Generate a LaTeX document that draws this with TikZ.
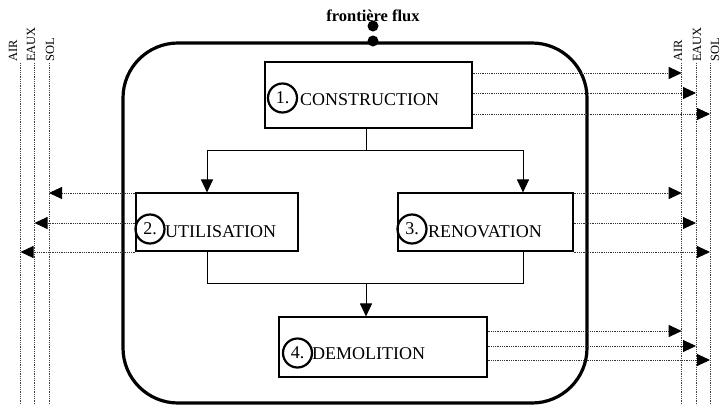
\documentclass[tikz,border=0pt]{standalone}
\usepackage{fontspec}
\setmainfont{Liberation Serif}
\usetikzlibrary{arrows.meta,calc}
\begin{document}
\begin{tikzpicture}[x=1pt,y=-1pt,
  frame/.style={draw,line width=3.2pt,rounded corners=55pt,rectangle,inner sep=0pt},
  stagebox/.style={draw,line width=1.1pt,rectangle,inner sep=0pt},
  numc/.style={circle,draw,line width=2.2pt,minimum size=29pt,inner sep=0pt,font=\fontsize{18}{20}\selectfont},
  lbl/.style={anchor=base west,inner sep=0pt,font=\fontsize{18}{20}\selectfont},
  medlbl/.style={rotate=90,anchor=base west,inner sep=0pt,font=\fontsize{12.5}{14}\selectfont},
  dotnode/.style={circle,fill=black,inner sep=0pt,minimum size=11pt},
  flow/.style={line width=1pt,-{Triangle[length=13pt,width=12pt]}},
  link/.style={line width=1pt},
  emit/.style={line width=0.9pt,black!80,dash pattern=on 1pt off 0.8pt,-{Triangle[length=13pt,width=12pt,color=black,fill=black]}},
  medline/.style={line width=0.9pt,black!75,dash pattern=on 1pt off 0.8pt}
]
\useasboundingbox (0,0) rectangle (721,405);

% outer boundary
\node[frame,minimum width=464pt,minimum height=360pt] (frame) at (355,223) {};
\node[font=\bfseries\fontsize{16.5}{18}\selectfont,anchor=base,inner sep=0pt] (title) at (373,21) {frontière flux};
\node[dotnode] (d1) at (373,26) {};
\node[dotnode] (d2) at (373,41) {};

% media lines
\coordinate (airLt) at (20.5,63);  \coordinate (airLb) at (20.5,405);
\coordinate (eauLt) at (34.5,63);  \coordinate (eauLb) at (34.5,405);
\coordinate (solLt) at (49,63);    \coordinate (solLb) at (49,405);
\coordinate (airRt) at (681.7,63); \coordinate (airRb) at (681.7,405);
\coordinate (eauRt) at (696,63);   \coordinate (eauRb) at (696,405);
\coordinate (solRt) at (710,63);   \coordinate (solRb) at (710,405);
\foreach \a/\b in {airLt/airLb,eauLt/eauLb,solLt/solLb,airRt/airRb,eauRt/eauRb,solRt/solRb}
  \draw[medline] (\a) -- (\b);
\node[medlbl] (tairL) at (17,62) {AIR};
\node[medlbl] (teauL) at (35,62) {EAUX};
\node[medlbl] (tsolL) at (54,62) {SOL};
\node[medlbl] (tairR) at (682,62) {AIR};
\node[medlbl] (teauR) at (701,62) {EAUX};
\node[medlbl] (tsolR) at (719,62) {SOL};

% stages
\node[stagebox,minimum width=207pt,minimum height=66pt] (c1) at (368.5,95) {};
\node[numc] (n1) at (282.5,98) {1.};
\node[lbl] (t1) at (300,105) {CONSTRUCTION};

\node[stagebox,minimum width=162pt,minimum height=58pt] (c2) at (217,222) {};
\node[numc] (n2) at (150,229) {2.};
\node[lbl] (t2) at (165,237) {UTILISATION};

\node[stagebox,minimum width=175pt,minimum height=58pt] (c3) at (485.5,222) {};
\node[numc] (n3) at (412,229) {3.};
\node[lbl] (t3) at (428,237) {RENOVATION};

\node[stagebox,minimum width=208pt,minimum height=60pt] (c4) at (383,347) {};
\node[numc] (n4) at (297.5,353) {4.};
\node[lbl] (t4) at (312,359) {DEMOLITION};

% process connectors
\coordinate (j1) at (366,150);
\coordinate (j2) at (366,283);
\draw[link] (c1.south -| j1) -- (j1);
\draw[flow] (j1) -| ([xshift=-10pt]c2.north);
\draw[flow] (j1) -| ([xshift=37.5pt]c3.north);
\draw[link] ([xshift=-10pt]c2.south) |- ([xshift=37.5pt]c3.south |- j2) -- ([xshift=37.5pt]c3.south);
\draw[flow] (j2) -- (j2 |- c4.north);

% emissions
\draw[emit] (c1.east |- 0,73) -- (airRt |- 0,73);
\draw[emit] (c1.east |- 0,93) -- (eauRt |- 0,93);
\draw[emit] (c1.east |- 0,114) -- (solRt |- 0,114);

\draw[emit] (c3.east |- 0,193) -- (airRt |- 0,193);
\draw[emit] (c3.east |- 0,223) -- (eauRt |- 0,223);
\draw[emit] (c3.east |- 0,252) -- (solRt |- 0,252);

\draw[emit] (c2.west |- 0,193) -- (solLt |- 0,193);
\draw[emit] (c2.west |- 0,223) -- (eauLt |- 0,223);
\draw[emit] (c2.west |- 0,252) -- (airLt |- 0,252);

\draw[emit] (c4.east |- 0,331) -- (airRt |- 0,331);
\draw[emit] (c4.east |- 0,346) -- (eauRt |- 0,346);
\draw[emit] (c4.east |- 0,360) -- (solRt |- 0,360);
\end{tikzpicture}
\end{document}
